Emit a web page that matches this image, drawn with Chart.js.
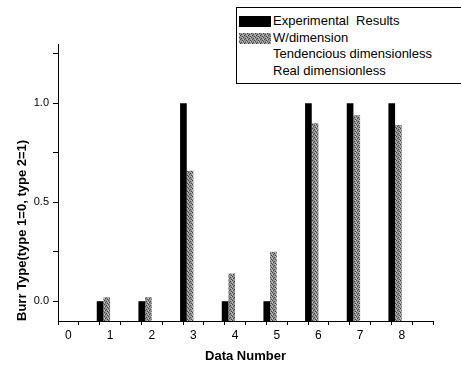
<!DOCTYPE html>
<html>
<head>
<meta charset="utf-8">
<script src="https://cdn.jsdelivr.net/npm/chart.js@4/dist/chart.umd.min.js"></script>
<style>
  body { margin: 0; background: #fff; }
  #wrap { position: relative; width: 461px; height: 366px; }
  #legend {
    position: absolute; left: 236px; top: 7px; width: 230px; height: 77px;
    border: 1px solid #000; border-right: none; background: #fff;
    font-family: "Liberation Sans", Arial, sans-serif; font-size: 13px; color: #000;
    padding-top: 5px; box-sizing: border-box;
  }
  .row { position: relative; height: 16.6px; line-height: 16.6px; padding-left: 36px; white-space: pre; }
  .sw { position: absolute; left: 2px; top: 3px; width: 32px; height: 11px; }
</style>
</head>
<body>
<div id="wrap">
  <canvas id="c" width="461" height="366"></canvas>
  <div id="legend"></div>
</div>
<script>
const dataNumbers = [1, 2, 3, 4, 5, 6, 7, 8];
const experimental = [0, 0, 1, 0, 0, 1, 1, 1];
const wDimension = [0.02, 0.02, 0.66, 0.14, 0.25, 0.90, 0.94, 0.89];
const seriesNames = ['Experimental  Results', 'W/dimension', 'Tendencious dimensionless', 'Real dimensionless'];
const xTickLabels = ['0', '1', '2', '3', '4', '5', '6', '7', '8'];
const yTickLabels = ['0.0', '0.5', '1.0'];

// stippled grey fill like the scanned figure
function makePattern() {
    const p = document.createElement('canvas');
    p.width = 4; p.height = 4;
    const g = p.getContext('2d');
    g.fillStyle = '#949494'; g.fillRect(0, 0, 4, 4);
    g.fillStyle = '#444';
    g.fillRect(0, 0, 1, 1); g.fillRect(2, 1, 1, 1); g.fillRect(1, 2, 1, 1); g.fillRect(3, 3, 1, 1);
    g.fillStyle = '#c4c4c4';
    g.fillRect(3, 0, 1, 1); g.fillRect(0, 2, 1, 1);
    return p;
}
const patCanvas = makePattern();
const greyFill = document.getElementById('c').getContext('2d').createPattern(patCanvas, 'repeat');

const swatches = ['#000', 'url(' + patCanvas.toDataURL() + ')', 'transparent', 'transparent'];
const legend = document.getElementById('legend');
seriesNames.forEach((name, i) => {
    legend.innerHTML += `<div class="row"><span class="sw" style="background:${swatches[i]}"></span>${name}</div>`;
});

Chart.defaults.font.family = '"Liberation Sans", Arial, sans-serif';
Chart.defaults.color = '#000';

const toPoints = vals => dataNumbers.map((n, i) => ({ x: n, y: vals[i] }));

new Chart(document.getElementById('c'), {
    type: 'bar',
    data: {
        datasets: [
            { label: seriesNames[0], data: toPoints(experimental), backgroundColor: '#000', base: -0.1 },
            { label: seriesNames[1], data: toPoints(wDimension), backgroundColor: greyFill, base: -0.1 },
            { label: seriesNames[2], data: [], backgroundColor: 'rgba(0,0,0,0)', base: -0.1 },
            { label: seriesNames[3], data: [], backgroundColor: 'rgba(0,0,0,0)', base: -0.1 }
        ]
    },
    options: {
        responsive: false, animation: false,
        layout: { padding: { left: 0, right: 28, top: 44, bottom: 0 } },
        // half-step ticks set the sample size, so the group spans 0.64 of a data step
        datasets: { bar: { barPercentage: 1, categoryPercentage: 1.28 } },
        plugins: { legend: { display: false }, tooltip: { enabled: false } },
        scales: {
            x: {
                type: 'linear', min: 0, max: 8.5,
                afterBuildTicks: s => { s.ticks = []; for (let v = 0; v <= 8.5; v += 0.5) s.ticks.push({ value: v }); },
                afterFit: s => { s.height = 45; },
                ticks: { font: { size: 12 }, padding: 3, maxRotation: 0,
                    callback: v => Number.isInteger(v) ? xTickLabels[v] : '' },
                grid: { drawOnChartArea: false, tickLength: 4, color: '#000' },
                border: { color: '#000', width: 1 },
                title: { display: true, text: 'Data Number', font: { size: 13, weight: 'bold' }, padding: { top: 0, bottom: 2 } }
            },
            y: {
                min: -0.1, max: 1.3,
                afterBuildTicks: s => { s.ticks = []; for (let v = 0; v <= 1.26; v += 0.25) s.ticks.push({ value: v }); },
                afterFit: s => { s.width = 58; },
                ticks: { font: { size: 11 }, padding: 4,
                    callback: v => Math.abs(v * 2 - Math.round(v * 2)) < 1e-6 ? yTickLabels[Math.round(v * 2)] : '' },
                grid: { drawOnChartArea: false, tickLength: 5, color: '#000' },
                border: { color: '#000', width: 1 },
                title: { display: true, text: 'Burr Type(type 1=0, type 2=1)', align: 'start', font: { size: 13, weight: 'bold' }, padding: { top: 15, bottom: 0 } }
            }
        }
    }
});
</script>
</body>
</html>
